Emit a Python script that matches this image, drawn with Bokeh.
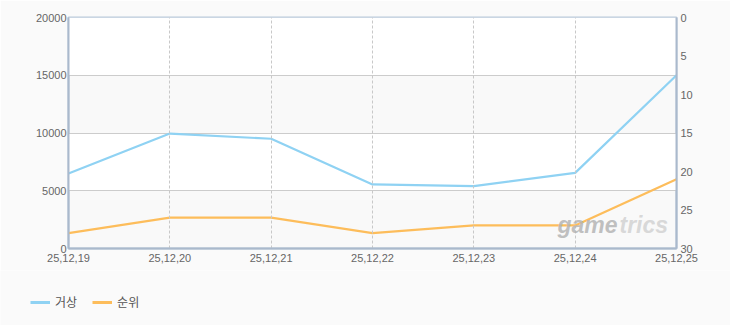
from bokeh.plotting import figure
from bokeh.layouts import column, row
from bokeh.models import Range1d, LinearAxis, FixedTicker, Legend, LegendItem, Label
from bokeh.embed import file_html
from bokeh.resources import INLINE

dates = ["25,12,19", "25,12,20", "25,12,21", "25,12,22", "25,12,23", "25,12,24", "25,12,25"]
geosang = [6500, 9950, 9500, 5550, 5400, 6550, 15000]
rank = [28, 26, 26, 28, 27, 27, 21]
left_ticks = [0, 5000, 10000, 15000, 20000]
right_ticks = [0, 5, 10, 15, 20, 25, 30]
series_names = ["거상", "순위"]
colors = ["#8fd2f3", "#fdbd5b"]

FONT = "Liberation Sans"
xs = list(range(len(dates)))

p = figure(width=730, height=270, output_backend="svg", toolbar_location=None,
           x_range=Range1d(0, len(dates) - 1), y_range=Range1d(0, 20000),
           min_border_left=68, min_border_right=54, min_border_top=17, min_border_bottom=22)
p.extra_y_ranges = {"rank": Range1d(start=30, end=0)}

p.border_fill_color = "#fafafa"
p.background_fill_color = "#f9f9f9"
p.outline_line_color = "#b9c9da"
p.outline_line_width = 2

# axes
p.xaxis.ticker = FixedTicker(ticks=xs)
p.xaxis.major_label_overrides = {i: d for i, d in enumerate(dates)}
p.yaxis.ticker = FixedTicker(ticks=left_ticks)
rax = LinearAxis(y_range_name="rank", ticker=FixedTicker(ticks=right_ticks))
p.add_layout(rax, "right")
for ax in [p.xaxis[0], p.yaxis[0], rax]:
    ax.axis_line_color = "#aab9cc"
    ax.axis_line_width = 2
    ax.major_tick_line_color = None
    ax.minor_tick_line_color = None
    ax.major_tick_out = 0
    ax.major_tick_in = 0
    ax.minor_tick_out = 0
    ax.minor_tick_in = 0
    ax.major_label_text_font = FONT
    ax.major_label_text_font_size = "11px"
    ax.major_label_text_color = "#666666"
    ax.major_label_standoff = 2
p.xaxis.major_label_standoff = 5
rax.major_label_standoff = 4

# grids
p.ygrid.ticker = FixedTicker(ticks=left_ticks)
p.ygrid.grid_line_color = "#cccccc"
p.ygrid.grid_line_width = 1
p.ygrid.band_fill_color = "#ffffff"
p.ygrid.band_fill_alpha = 1
p.xgrid.ticker = FixedTicker(ticks=xs)
p.xgrid.grid_line_color = "#c8c8c8"
p.xgrid.grid_line_dash = "3 2"
p.xgrid.level = "glyph"

# lines
l1 = p.line(xs, geosang, line_color=colors[0], line_width=2.2)
l2 = p.line(xs, rank, y_range_name="rank", line_color=colors[1], line_width=2.2)

# watermark
p.add_layout(Label(x=489, y=11, x_units="screen", y_units="screen", text="game",
                   text_font=FONT, text_font_size="23px", text_font_style="bold italic",
                   text_color="#b5b5b5", text_alpha=0.85))
p.add_layout(Label(x=551, y=11, x_units="screen", y_units="screen", text="trics",
                   text_font=FONT, text_font_size="23px", text_font_style="bold italic",
                   text_color="#d2d2d2", text_alpha=0.85))

# legend panel
q = figure(width=730, height=55, output_backend="svg", toolbar_location=None,
           x_range=Range1d(0, len(dates) - 1), y_range=Range1d(0, 20000),
           min_border=0, x_axis_type=None, y_axis_type=None)
q.border_fill_color = "#fafafa"
q.background_fill_color = "#fafafa"
q.outline_line_color = None
q.grid.visible = False
k1 = q.line(xs, geosang, line_color=colors[0], line_width=3)
k2 = q.line(xs, rank, line_color=colors[1], line_width=3)
k1.visible = False
k2.visible = False
legend = Legend(items=[LegendItem(label=series_names[0], renderers=[k1]),
                       LegendItem(label=series_names[1], renderers=[k2])],
                orientation="horizontal", location=(30, 15),
                background_fill_alpha=0, border_line_color=None,
                label_text_font="Noto Sans CJK KR", label_text_font_size="12px",
                label_text_color="#555555", glyph_width=20, glyph_height=12,
                spacing=15, label_standoff=5, padding=0, margin=0)
q.add_layout(legend, "center")

open("out.html", "w").write(file_html(column(p, row(q), spacing=0), INLINE))
